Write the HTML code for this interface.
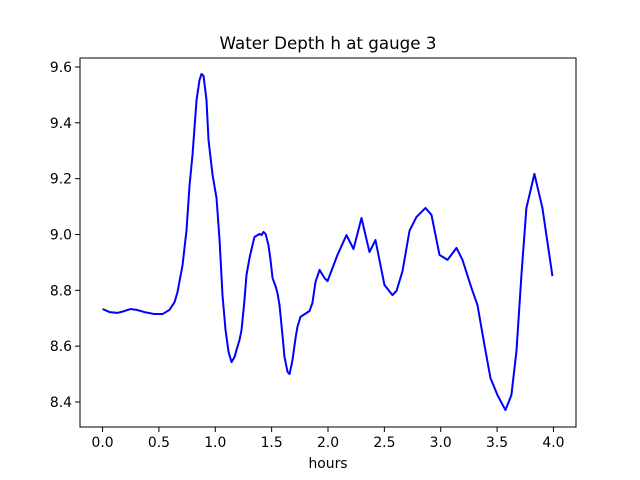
<!DOCTYPE html>
<html><head><meta charset="utf-8"><style>
html,body{margin:0;padding:0;background:#fff;}
svg{display:block;font-family:"DejaVu Sans","Liberation Sans",sans-serif;}
</style></head><body>
<svg id="chart" width="640" height="480" xmlns="http://www.w3.org/2000/svg">
<rect width="640" height="480" fill="#fff"/>
<text x="328" y="49" text-anchor="middle" font-size="16.7" fill="#000">Water Depth h at gauge 3</text>
<g id="xticks"></g>
<g id="yticks"></g>
<polyline id="line" fill="none" stroke="#0000ff" stroke-width="2" stroke-linejoin="round"/>
<rect x="80" y="58" width="496" height="369" fill="none" stroke="#000" stroke-width="1"/>
<text x="328" y="468" text-anchor="middle" font-size="13.9" fill="#000">hours</text>
</svg>
<script>
const hours=[0,0.062,0.133,0.195,0.248,0.302,0.372,0.461,0.532,0.594,0.639,0.665,0.710,0.745,0.772,0.798,0.834,0.860,0.878,0.896,0.922,0.940,0.976,1.011,1.038,1.064,1.091,1.118,1.144,1.171,1.188,1.215,1.233,1.259,1.277,1.304,1.330,1.348,1.375,1.392,1.410,1.428,1.446,1.472,1.490,1.508,1.534,1.552,1.570,1.596,1.614,1.641,1.659,1.685,1.712,1.729,1.756,1.783,1.836,1.862,1.889,1.925,1.969,1.996,2.084,2.164,2.226,2.297,2.368,2.421,2.501,2.572,2.608,2.661,2.723,2.785,2.865,2.918,2.989,3.060,3.140,3.193,3.273,3.326,3.388,3.441,3.503,3.574,3.627,3.672,3.716,3.760,3.831,3.902,3.991];
const depth=[8.733,8.722,8.719,8.726,8.733,8.730,8.722,8.715,8.715,8.730,8.758,8.794,8.891,9.016,9.177,9.285,9.482,9.553,9.575,9.568,9.482,9.339,9.213,9.131,8.980,8.783,8.658,8.579,8.543,8.561,8.586,8.622,8.658,8.765,8.855,8.916,8.962,8.991,8.998,9.002,8.998,9.009,9.002,8.962,8.909,8.844,8.816,8.790,8.747,8.640,8.561,8.508,8.500,8.550,8.629,8.669,8.705,8.712,8.726,8.755,8.830,8.873,8.844,8.833,8.927,8.998,8.948,9.059,8.937,8.980,8.819,8.783,8.798,8.869,9.013,9.063,9.095,9.070,8.927,8.909,8.952,8.909,8.808,8.747,8.604,8.486,8.425,8.371,8.425,8.583,8.855,9.095,9.217,9.095,8.851];
const xTickValues=[0,0.5,1,1.5,2,2.5,3,3.5,4];
const xTickLabels=["0.0","0.5","1.0","1.5","2.0","2.5","3.0","3.5","4.0"];
const yTickValues=[8.4,8.6,8.8,9.0,9.2,9.4,9.6];
const yTickLabels=["8.4","8.6","8.8","9.0","9.2","9.4","9.6"];
const X0=80,X1=576,Y0=58,Y1=427;
const xmin=-0.2,xmax=4.2,ymin=8.3104,ymax=9.6322;
function sx(v){return X0+(v-xmin)/(xmax-xmin)*(X1-X0);}
function sy(v){return Y1-(v-ymin)/(ymax-ymin)*(Y1-Y0);}
const NS="http://www.w3.org/2000/svg";
const line=document.getElementById('line');
line.setAttribute('points',hours.map((h,i)=>sx(h).toFixed(2)+','+sy(depth[i]).toFixed(2)).join(' '));
const xg=document.getElementById('xticks');
xTickValues.forEach((v,i)=>{
  const x=sx(v);
  const t=document.createElementNS(NS,'line');
  t.setAttribute('x1',x);t.setAttribute('x2',x);t.setAttribute('y1',Y1);t.setAttribute('y2',Y1+5);t.setAttribute('stroke','#000');
  
  
  xg.appendChild(t);
  const l=document.createElementNS(NS,'text');
  l.setAttribute('x',x);l.setAttribute('y',Y1+20);l.setAttribute('text-anchor','middle');l.setAttribute('font-size','13.9');
  l.textContent=xTickLabels[i];
  
  
  xg.appendChild(l);
});
const yg=document.getElementById('yticks');
yTickValues.forEach((v,i)=>{
  const y=sy(v);
  const t=document.createElementNS(NS,'line');
  t.setAttribute('x1',X0-5);t.setAttribute('x2',X0);t.setAttribute('y1',y);t.setAttribute('y2',y);t.setAttribute('stroke','#000');
  
  
  yg.appendChild(t);
  const l=document.createElementNS(NS,'text');
  l.setAttribute('x',X0-8);l.setAttribute('y',y+5);l.setAttribute('text-anchor','end');l.setAttribute('font-size','13.9');
  l.textContent=yTickLabels[i];
  
  
  yg.appendChild(l);
});
</script>
</body></html>
